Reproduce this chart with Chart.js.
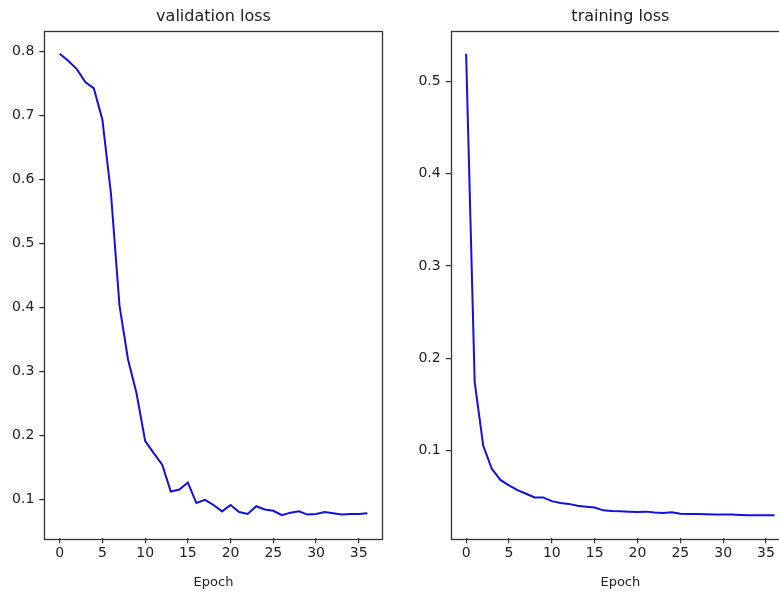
<!DOCTYPE html>
<html>
<head>
<meta charset="utf-8">
<script src="https://cdn.jsdelivr.net/npm/chart.js@4.4.1/dist/chart.umd.min.js"></script>
<style>
  html, body { margin: 0; padding: 0; background: #fff; overflow: hidden; }
  #wrap { position: relative; width: 779px; height: 597px; overflow: hidden; }
  .box { position: absolute; top: 0; }
  #leftBox { left: 0; }
  #rightBox { left: 400px; }
</style>
</head>
<body>
<div id="wrap">
  <div class="box" id="leftBox"><canvas id="valChart" width="386" height="597"></canvas></div>
  <div class="box" id="rightBox"><canvas id="trainChart" width="390" height="597"></canvas></div>
</div>
<script>
const epochs = [0, 1, 2, 3, 4, 5, 6, 7, 8, 9, 10, 11, 12, 13, 14, 15, 16, 17, 18,
  19, 20, 21, 22, 23, 24, 25, 26, 27, 28, 29, 30, 31, 32, 33, 34, 35, 36];

const valLoss = [0.796, 0.785, 0.772, 0.752, 0.742, 0.693, 0.578, 0.403, 0.319, 0.266,
  0.192, 0.173, 0.155, 0.113, 0.116, 0.127, 0.095, 0.100, 0.092, 0.082,
  0.092, 0.081, 0.078, 0.090, 0.085, 0.083, 0.076, 0.080, 0.082, 0.077,
  0.078, 0.081, 0.079, 0.077, 0.078, 0.078, 0.079];

const trainLoss = [0.530, 0.174, 0.105, 0.080, 0.068, 0.062, 0.057, 0.053, 0.049, 0.049,
  0.045, 0.043, 0.042, 0.040, 0.039, 0.038, 0.035, 0.0343, 0.034, 0.0336,
  0.0333, 0.0336, 0.0326, 0.032, 0.033, 0.0314, 0.031, 0.031, 0.0307, 0.0304,
  0.0304, 0.0304, 0.030, 0.0297, 0.0297, 0.0297, 0.0297];

const epochTicks = [0, 5, 10, 15, 20, 25, 30, 35];
const valTicks = [0.1, 0.2, 0.3, 0.4, 0.5, 0.6, 0.7, 0.8];
const trainTicks = [0.1, 0.2, 0.3, 0.4, 0.5];

const INK = '#222';
const SPINE = '#333';
const LINE = '#1010e0';
const FONT = "'DejaVu Sans', Verdana, sans-serif";

// matplotlib-style 5% margins around the data
function padRange(values) {
  const lo = Math.min(...values), hi = Math.max(...values);
  const m = (hi - lo) * 0.05;
  return { min: lo - m, max: hi + m };
}

// full box around the plot area, like matplotlib spines
const framePlugin = {
  id: 'frame',
  afterDraw(chart) {
    const { ctx, chartArea: a } = chart;
    ctx.save();
    ctx.strokeStyle = SPINE;
    ctx.lineWidth = 1.3;
    ctx.strokeRect(Math.round(a.left) + 0.5, Math.round(a.top) + 0.5,
      Math.round(a.right - a.left), Math.round(a.bottom - a.top));
    ctx.restore();
  }
};

function makeChart(canvasId, title, values, yTicks, yWidth, padRight) {
  const xr = padRange(epochs);
  const yr = padRange(values);
  return new Chart(document.getElementById(canvasId), {
    type: 'line',
    data: {
      datasets: [{
        data: epochs.map((e, i) => ({ x: e, y: values[i] })),
        borderColor: LINE,
        borderWidth: 2,
        pointRadius: 0,
        tension: 0,
        fill: false
      }]
    },
    options: {
      responsive: false,
      animation: false,
      layout: { padding: { top: 0.5, left: 0, right: padRight, bottom: 0 } },
      plugins: {
        legend: { display: false },
        tooltip: { enabled: false },
        title: {
          display: true,
          text: title,
          fullSize: false,
          color: INK,
          font: { family: FONT, size: 16, weight: 'normal' },
          padding: { top: 7, bottom: 4 }
        }
      },
      scales: {
        x: {
          type: 'linear',
          min: xr.min,
          max: xr.max,
          afterBuildTicks: sc => { sc.ticks = epochTicks.map(v => ({ value: v })); },
          afterFit: sc => { sc.height = 58.7; },
          ticks: {
            color: INK, font: { family: FONT, size: 14 }, padding: 2,
            maxRotation: 0, autoSkip: false, callback: v => String(v)
          },
          grid: { display: true, drawOnChartArea: false, drawTicks: true, tickLength: 5, tickColor: SPINE, lineWidth: 1.2 },
          border: { display: false },
          title: {
            display: true, text: 'Epoch', color: INK,
            font: { family: FONT, size: 13 }, padding: { top: 0, bottom: 6.5 }
          }
        },
        y: {
          type: 'linear',
          min: yr.min,
          max: yr.max,
          afterBuildTicks: sc => { sc.ticks = yTicks.map(v => ({ value: v })); },
          afterFit: sc => { sc.width = yWidth; },
          ticks: {
            color: INK, font: { family: FONT, size: 14 }, padding: 5,
            autoSkip: false, callback: v => v.toFixed(1)
          },
          grid: { display: true, drawOnChartArea: false, drawTicks: true, tickLength: 5, tickColor: SPINE, lineWidth: 1.2 },
          border: { display: false }
        }
      }
    },
    plugins: [framePlugin]
  });
}

makeChart('valChart', 'validation loss', valLoss, valTicks, 44.3, 3.3);
makeChart('trainChart', 'training loss', trainLoss, trainTicks, 50.7, 0);
</script>
</body>
</html>
